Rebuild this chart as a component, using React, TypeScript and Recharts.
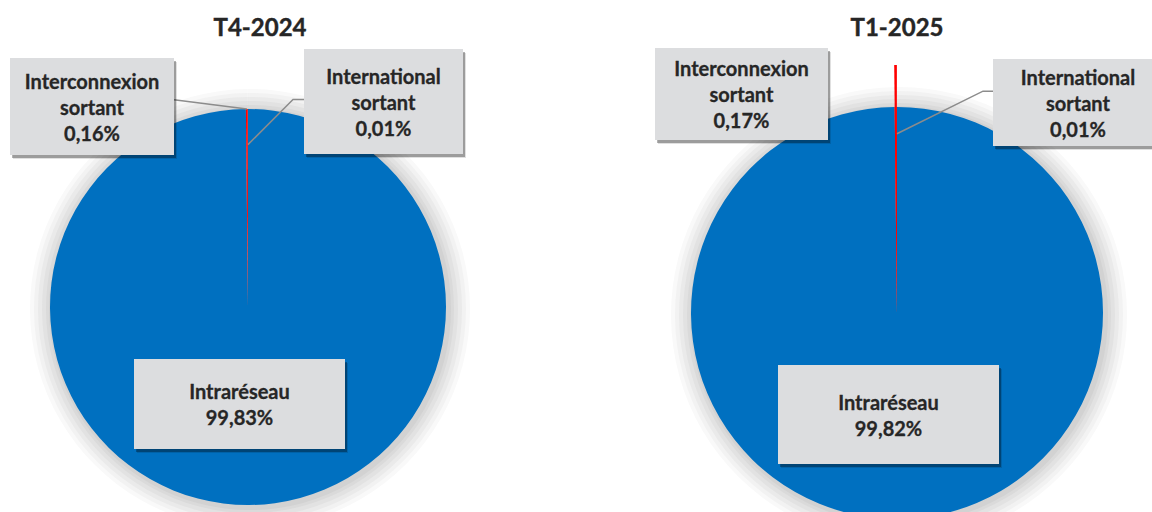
import { PieChart, Pie, Cell } from "recharts";

const categories = ["Intraréseau", "Interconnexion sortant", "International sortant"];
const periods = ["T4-2024", "T1-2025"];
const valuesT4_2024 = [99.83, 0.16, 0.01];
const valuesT1_2025 = [99.82, 0.17, 0.01];
const colors = ["#0070C0", "#FF0000", "#A5A5A5"];

const toRows = (values: number[]) => categories.map((name, i) => ({ name, value: values[i] }));
const dataLeft = toRows(valuesT4_2024);
const dataRight = toRows(valuesT1_2025);

const FONT = "Lato, 'Open Sans', sans-serif";
// soft grey halo round each disc, outermost first
const haloRings = [
  { grow: 22, fill: "#F9F9F9" },
  { grow: 18, fill: "#F2F2F2" },
  { grow: 14, fill: "#EAEAEA" },
  { grow: 10, fill: "#E2E2E2" },
  { grow: 6, fill: "#DADADA" },
  { grow: 3, fill: "#D2D2D2" },
];

// label boxes relative to the pie centre, leader lines hooked to the slice angle
type Box = { dx: number; dy: number; w: number; h: number; leader?: { side: "left" | "right"; yFrac: number; elbow: number; reach: number } };
const layoutLeft: Record<string, Box> = {
  "Intraréseau": { dx: -114, dy: 52, w: 211, h: 90 },
  "Interconnexion sortant": { dx: -238, dy: -249, w: 164, h: 97, leader: { side: "right", yFrac: 0.43, elbow: 0, reach: 1 } },
  "International sortant": { dx: 56, dy: -258, w: 159, h: 105, leader: { side: "left", yFrac: 0.48, elbow: 11, reach: 0.82 } },
};
const layoutRight: Record<string, Box> = {
  "Intraréseau": { dx: -119, dy: 52, w: 221, h: 99 },
  "Interconnexion sortant": { dx: -242, dy: -265, w: 173, h: 92 },
  "International sortant": { dx: 96, dy: -254, w: 170, h: 87, leader: { side: "left", yFrac: 0.37, elbow: 10, reach: 0.87 } },
};

const fmt = (v: number) => v.toFixed(2).replace(".", ",") + "%";

const makeLabel = (layout: Record<string, Box>) => (props: any) => {
  const { cx, cy, outerRadius, midAngle, name, value } = props;
  const box = layout[name];
  if (!box) return null;
  const x = cx + box.dx;
  const y = cy + box.dy;
  const lines = name === "Intraréseau" ? [name, fmt(value)] : [...String(name).split(" "), fmt(value)];
  const lh = 26;
  const startY = y + box.h / 2 - ((lines.length - 1) * lh) / 2;
  let leader = null;
  if (box.leader) {
    const rad = (Math.PI / 180) * midAngle;
    const ax = cx + outerRadius * box.leader.reach * Math.cos(rad);
    const ay = cy - outerRadius * box.leader.reach * Math.sin(rad);
    const ly = y + box.h * box.leader.yFrac;
    const lx = box.leader.side === "right" ? x + box.w : x;
    const ex = box.leader.side === "right" ? lx + box.leader.elbow : lx - box.leader.elbow;
    leader = <polyline points={`${lx},${ly} ${ex},${ly} ${ax},${ay}`} fill="none" stroke="#8C8C8C" strokeWidth={1.5} />;
  }
  return (
    <g>
      {leader}
      <rect x={x + 3} y={y + 4} width={box.w} height={box.h} fill="#000" fillOpacity={0.12} />
      <rect x={x + 2} y={y + 3} width={box.w} height={box.h} fill="#000" fillOpacity={0.3} />
      <rect x={x} y={y} width={box.w} height={box.h} fill="#DCDDDF" />
      {lines.map((t, i) => (
        <text key={i} x={x + box.w / 2} y={startY + i * lh} textAnchor="middle" dominantBaseline="central"
          fontFamily={FONT} fontWeight={700} fontSize={20} fill="#262626" stroke="#262626" strokeWidth={0.3}>
          {t}
        </text>
      ))}
    </g>
  );
};

const halo = (data: { name: string; value: number }[], cx: number, cy: number, r: number, key: string) =>
  haloRings.map((ring) => (
    <Pie key={`${key}-${ring.grow}`} name={`${key}-${ring.grow}`} data={data} dataKey="value" nameKey="name"
      cx={cx + 2} cy={cy + 2} outerRadius={r + ring.grow}
      startAngle={90} endAngle={-270} stroke="none" isAnimationActive={false}>
      {data.map((d) => <Cell key={d.name} fill={ring.fill} />)}
    </Pie>
  ));

const titleStyle = (center: number): React.CSSProperties => ({
  position: "absolute", left: center - 100, top: 12, width: 200, textAlign: "center",
  fontFamily: FONT, fontWeight: 700, fontSize: 24, color: "#262626", lineHeight: "30px",
  WebkitTextStroke: "0.4px #262626",
});

export default function App() {
  return (
    <div style={{ position: "absolute", left: 0, top: 0, width: 1152, height: 512, background: "#fff", overflow: "hidden" }}>
      <div style={titleStyle(260)}>{periods[0]}</div>
      <div style={titleStyle(897)}>{periods[1]}</div>
      <PieChart width={1152} height={512} margin={{ top: 0, right: 0, bottom: 0, left: 0 }}
        style={{ position: "absolute", left: 0, top: 0 }}>
        {halo(dataLeft, 248, 307, 198, "hl")}
        {halo(dataRight, 897, 313, 206, "hr")}
        <Pie data={dataLeft} dataKey="value" nameKey="name" cx={248} cy={307} outerRadius={198}
          startAngle={90} endAngle={-270} stroke="none"
          label={makeLabel(layoutLeft)} labelLine={false} isAnimationActive={false}>
          {dataLeft.map((d, i) => <Cell key={d.name} fill={colors[i]} />)}
        </Pie>
        <Pie data={dataRight} dataKey="value" nameKey="name" cx={897} cy={313} outerRadius={206}
          startAngle={90} endAngle={-270} stroke="none"
          label={makeLabel(layoutRight)} labelLine={false} isAnimationActive={false}>
          {dataRight.map((d, i) => <Cell key={d.name} fill={colors[i]} />)}
        </Pie>
        {/* pulled-out red slice of T1-2025 reaching above the disc */}
        <Pie data={dataRight} dataKey="value" nameKey="name" cx={897} cy={313} outerRadius={248}
          startAngle={90} endAngle={-270} stroke="none" isAnimationActive={false}>
          {dataRight.map((d, i) => <Cell key={d.name} fill={i === 1 ? colors[i] : "none"} />)}
        </Pie>
      </PieChart>
    </div>
  );
}
